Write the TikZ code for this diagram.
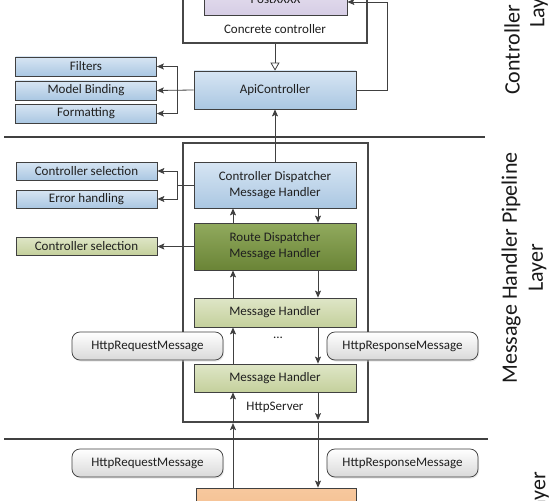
\documentclass[tikz,border=0pt]{standalone}
\usepackage{fontspec}
\setmainfont{Carlito}
\usetikzlibrary{arrows.meta, shadows}

\definecolor{lineGray}{HTML}{404040}
\definecolor{frameGray}{HTML}{474747}
\definecolor{blueTop}{HTML}{D7E5F3}
\definecolor{blueBot}{HTML}{AAC7E2}
\definecolor{oliveTop}{HTML}{DFE6C7}
\definecolor{oliveBot}{HTML}{C4D09C}
\definecolor{routeTop}{HTML}{91AA5E}
\definecolor{routeBot}{HTML}{6A8436}
\definecolor{postTop}{HTML}{E8E2F0}
\definecolor{postBot}{HTML}{D6CDE5}
\definecolor{orangeTop}{HTML}{F7C89E}
\definecolor{orangeBot}{HTML}{F2B987}
\definecolor{pillBot}{HTML}{D9D9D9}

\newcommand{\boxfont}{\fontsize{13}{16}\selectfont}
\newcommand{\layerfont}{\fontsize{22}{26}\selectfont}

\begin{document}
\begin{tikzpicture}[x=1pt, y=-1pt,
    box/.style={draw=lineGray, line width=0.75pt, inner sep=0pt, align=center, text=black!88, font=\boxfont},
    bluebox/.style={box, top color=blueTop, bottom color=blueBot},
    olivebox/.style={box, top color=oliveTop, bottom color=oliveBot},
    routebox/.style={box, top color=routeTop, bottom color=routeBot},
    sidebox/.style={minimum width=141pt, minimum height=19pt},
    stagebox/.style={minimum width=162pt},
    frame/.style={draw=frameGray, line width=2.2pt, inner sep=0pt},
    pill/.style={box, rounded corners=8pt, top color=white, bottom color=pillBot,
                 minimum width=151pt, minimum height=28pt,
                 drop shadow={shadow xshift=1pt, shadow yshift=-1.5pt, fill=gray!35}},
    arr/.style={draw=lineGray, line width=0.8pt, -{Stealth[length=7pt, width=6pt, inset=1.5pt]}},
    inherit/.style={draw=lineGray, line width=0.8pt, -{Triangle[open, length=8pt, width=9pt]}},
    sep/.style={draw=lineGray, line width=1.1pt},
    layer/.style={rotate=90, font=\layerfont, text=black!90, align=center}]

  % canvas
  \fill[white] (0,0) rectangle (553,500);
  \useasboundingbox (0,0) rectangle (553,500);
  \clip (0,0) rectangle (553,500);

  % Controller layer - concrete controller
  \node[frame, minimum width=184pt, minimum height=113pt] (concrete) at (275,-13.5) {};
  \node[box, top color=postTop, bottom color=postBot, minimum width=143pt, minimum height=32pt] (post) at (275.5,-1) {PostXXXX};
  \node[font=\boxfont, text=black!88] (concretelbl) at (275,29) {Concrete controller};

  \node[bluebox, stagebox, minimum height=38pt] (api) at (275,90) {ApiController};
  \node[bluebox, sidebox] (filters) at (86,66.5) {Filters};
  \node[bluebox, sidebox] (binding) at (86,90.5) {Model Binding};
  \node[bluebox, sidebox] (formatting) at (86,113.5) {Formatting};

  % Message handler pipeline layer
  \node[frame, minimum width=185pt, minimum height=279pt] (pipe) at (275.5,282.5) {};
  \node[bluebox, stagebox, minimum height=46pt] (cd) at (275,185) {Controller Dispatcher\\Message Handler};
  \node[routebox, stagebox, minimum height=47pt] (route) at (275,246.5) {Route Dispatcher\\Message Handler};
  \node[olivebox, stagebox, minimum height=29pt] (mh1) at (275,312.5) {Message Handler};
  \node[font=\boxfont, text=black!88] (dots) at (278,338) {...};
  \node[olivebox, stagebox, minimum height=28pt] (mh2) at (275,378) {Message Handler};
  \node[font=\boxfont, text=black!88] (serverlbl) at (275,407) {HttpServer};

  \node[bluebox, sidebox, minimum height=18pt] (ctrlsel) at (86.5,171) {Controller selection};
  \node[bluebox, sidebox, minimum height=18pt] (errh) at (86.5,199) {Error handling};
  \node[olivebox, sidebox, minimum height=18pt] (ctrlsel2) at (86.5,246) {Controller selection};

  \node[pill] (req1) at (147.5,346) {HttpRequestMessage};
  \node[pill] (resp1) at (402.5,346) {HttpResponseMessage};

  % Hosting layer
  \node[pill] (req2) at (147.5,463) {HttpRequestMessage};
  \node[pill] (resp2) at (402.5,463) {HttpResponseMessage};
  \node[box, top color=orangeTop, bottom color=orangeBot, minimum width=160pt, minimum height=44pt] (host) at (276,510) {};

  % layer separators
  \coordinate (sepA) at (4,137);
  \coordinate (sepB) at (485,137);
  \coordinate (sepC) at (4,439);
  \coordinate (sepD) at (488,439);
  \draw[sep] (sepA) -- (sepB);
  \draw[sep] (sepC) -- (sepD);

  % layer titles
  \node[layer] (ctrltitle) at (512,50) {Controller};
  \node[layer] (ctrltitle2) at (539,4) {Layer};
  \node[layer] (pipetitle) at (524,268) {Message Handler Pipeline\\Layer};
  \node[layer] (hosttitle) at (540,496) {Layer};

  % connectors in the controller layer
  \draw[inherit] (concrete.south) -- (api.north);
  \draw[arr] (cd.north) -- (api.south);
  \coordinate (fbturn) at (387,2);
  \draw[arr] (api.east) -| (fbturn) -- (fbturn -| post.east);
  \coordinate (apibranch) at (177,90);
  \draw[arr] (api.west) -- (binding.east);
  \draw[arr] (apibranch) |- (filters.east);
  \draw[arr] (apibranch) |- (formatting.east);

  % connectors to the side boxes of the pipeline
  \coordinate (cdbranch) at (177,185);
  \draw[lineGray, line width=0.8pt] (cd.west) -- (cdbranch);
  \draw[arr] (cdbranch) |- (ctrlsel.east);
  \draw[arr] (cdbranch) |- (errh.east);
  \draw[arr] (route.west) -- (route.west -| ctrlsel2.east);

  % request goes up, response comes down
  \coordinate (upx) at (233,0);
  \coordinate (downx) at (318,0);
  \foreach \upper/\lower in {cd/route, route/mh1, mh1/mh2}{
    \draw[arr] (upx |- \lower.north) -- (upx |- \upper.south);
    \draw[arr] (downx |- \upper.south) -- (downx |- \lower.north);
  }
  \draw[arr] (upx |- host.north) -- (upx |- pipe.south);
  \draw[arr] (upx |- pipe.south) -- (upx |- mh2.south);
  \draw[arr, shorten >=3pt] (downx |- mh2.south) -- (downx |- pipe.south);
  \draw[arr] (downx |- pipe.south) -- (downx |- host.north);

\end{tikzpicture}
\end{document}
